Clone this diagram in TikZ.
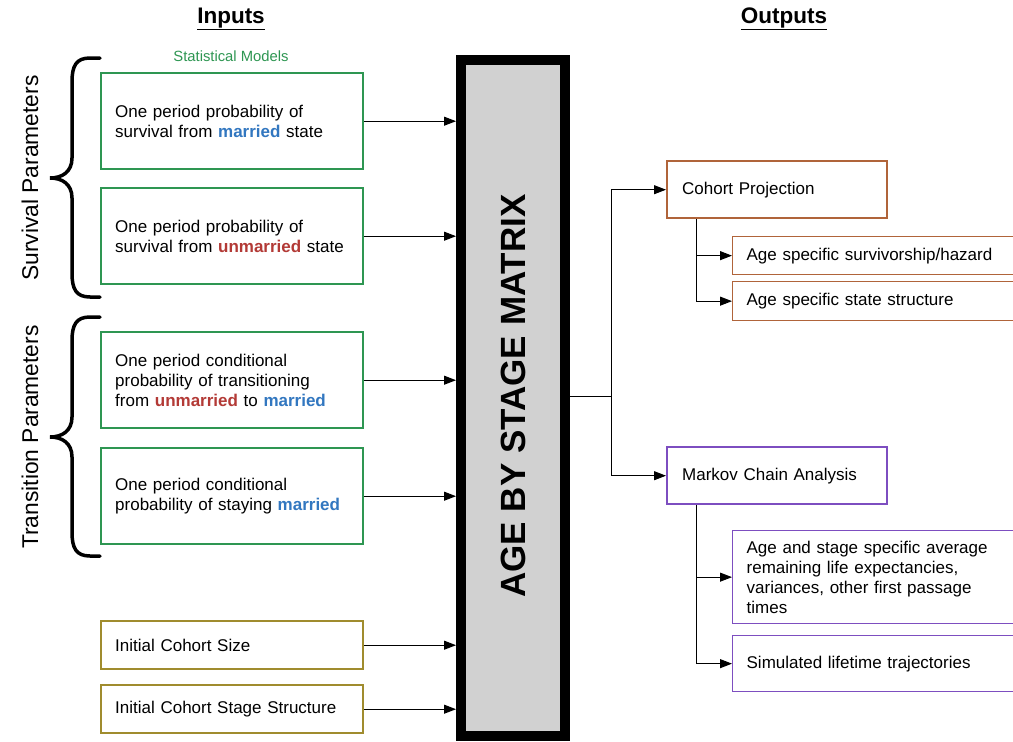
\documentclass[tikz,border=0pt]{standalone}
\usepackage{fontspec}
\setmainfont{Liberation Sans}
\usetikzlibrary{arrows.meta,positioning}
\definecolor{boxgreen}{RGB}{46,150,82}
\definecolor{boxolive}{RGB}{160,140,46}
\definecolor{boxbrown}{RGB}{176,100,58}
\definecolor{boxpurple}{RGB}{125,78,192}
\definecolor{marblue}{RGB}{50,119,192}
\definecolor{unmred}{RGB}{179,58,54}
\newcommand{\mar}{\textcolor{marblue}{\textbf{married}}}
\newcommand{\unm}{\textcolor{unmred}{\textbf{unmarried}}}
\tikzset{
  inbox/.style={draw=boxgreen,line width=2.4pt,anchor=north west,inner xsep=14pt,
    text width=234pt,minimum height=96pt,align=left,font=\fontsize{17}{20}\selectfont},
  initbox/.style={inbox,draw=boxolive,minimum height=48pt},
  outbox/.style={draw=boxbrown,line width=2.4pt,anchor=north west,inner xsep=15pt,
    text width=190pt,minimum height=57pt,align=left,font=\fontsize{17}{20}\selectfont},
  subbox/.style={outbox,line width=1.3pt,text width=300pt,inner xsep=14pt,minimum height=38pt},
  arr/.style={-{Triangle[length=12pt,width=9pt]},line width=1pt},
  brace/.style={line width=3.5pt,line cap=round}
}
\begin{document}
\begin{tikzpicture}[x=1pt,y=-1pt]
  \clip (0,0) rectangle (1013,742);
  \fill[white] (0,0) rectangle (1013,742);
  % headings
  \node[font=\fontsize{22.5}{26}\selectfont\bfseries] (hin) at (231,19) {\underline{Inputs}};
  \node[font=\fontsize{22.5}{26}\selectfont\bfseries] (hout) at (784,19) {\underline{Outputs}};
  \node[font=\fontsize{14.8}{17}\selectfont,text=boxgreen] (stat) at (231,56) {Statistical Models};
  % inputs
  \node[inbox] (ms) at (100,72) {One period probability of\\survival from \mar{} state};
  \node[inbox] (us) at (100,187) {One period probability of\\survival from \unm{} state};
  \node[inbox] (um) at (100,331) {One period conditional\\probability of transitioning\\from \unm{} to \mar};
  \node[inbox] (mm) at (100,447) {One period conditional\\probability of staying \mar};
  \node[initbox] (size) at (100,620) {Initial Cohort Size};
  \node[initbox] (struct) at (100,684) {Initial Cohort Stage Structure};
  % braces
  \foreach \y in {58,317}
    \draw[brace] (100,\y) -- (90,\y) .. controls (76,\y) and (72,\y+8) .. (72,\y+24)
      -- (72,\y+100) .. controls (72,\y+114) and (62,\y+120) .. (50,\y+120)
      .. controls (62,\y+120) and (72,\y+126) .. (72,\y+140)
      -- (72,\y+215) .. controls (72,\y+231) and (76,\y+239) .. (90,\y+239) -- (100,\y+239);
  \node[rotate=90,font=\fontsize{22.8}{26}\selectfont] (sp) at (30,178) {Survival Parameters};
  \node[rotate=90,font=\fontsize{22.8}{26}\selectfont] (tp) at (30,437) {Transition Parameters};
  % matrix
  \node[draw,fill=black!18,line width=10pt,minimum width=104pt,minimum height=676pt] (mat) at (513,398) {};
  \node[rotate=90,font=\fontsize{35}{40}\selectfont\bfseries] (mtxt) at (513,396) {AGE BY STAGE MATRIX};
  \foreach \b in {ms,us,um,mm,size,struct}
    \draw[arr] (\b.east) -- (\b.east -| mat.west);
  % outputs
  \node[outbox] (cohort) at (666,160) {Cohort Projection};
  \node[subbox] (surv) at (732,236) {Age specific survivorship/hazard};
  \node[subbox,minimum height=39pt] (stst) at (732,281) {Age specific state structure};
  \node[outbox,draw=boxpurple] (markov) at (666,446) {Markov Chain Analysis};
  \node[subbox,draw=boxpurple,minimum height=93pt] (avg) at (732,530)
    {Age and stage specific average\\remaining life expectancies,\\variances, other first passage\\times};
  \node[subbox,draw=boxpurple,minimum height=56pt] (sim) at (732,635) {Simulated lifetime trajectories};
  \coordinate (split) at (611,396);
  \draw[line width=1pt] (mat.east |- split) -- (split);
  \draw[arr] (split) |- (cohort.west);
  \draw[arr] (split) |- (markov.west);
  \draw[arr] ([xshift=30pt]cohort.south west) |- (surv.west);
  \draw[arr] ([xshift=30pt]cohort.south west) |- (stst.west);
  \draw[arr] ([xshift=30pt]markov.south west) |- (avg.west);
  \draw[arr] ([xshift=30pt]markov.south west) |- (sim.west);
\end{tikzpicture}
\end{document}
